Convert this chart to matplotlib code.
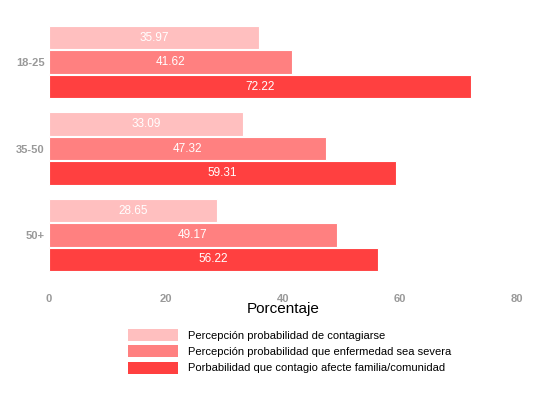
import matplotlib
matplotlib.use("Agg")
import matplotlib.pyplot as plt
import numpy as np
from matplotlib.patches import Patch

plt.rcParams['font.family'] = ['Liberation Sans', 'DejaVu Sans']

categories = ["18-25", "35-50", "50+"]
series_names = ["Percepción probabilidad de contagiarse",
                "Percepción probabilidad que enfermedad sea severa",
                "Porbabilidad que contagio afecte familia/comunidad"]
contagio = [35.97, 33.09, 28.65]
severa = [41.62, 47.32, 49.17]
familia = [72.22, 59.31, 56.22]
colors = ["#FFBFBF", "#FF8080", "#FF4040"]

W, H = 541, 394
fig = plt.figure(figsize=(W/100, H/100), dpi=100)
ax_left, ax_right = 49, 517
ax_top, ax_bot = 20, 288
ax = fig.add_axes([ax_left/W, 1-ax_bot/H, (ax_right-ax_left)/W, (ax_bot-ax_top)/H])

y = np.arange(len(categories))
bh = 0.27
offsets = [-0.283, 0, 0.283]
for vals, off, c in zip([contagio, severa, familia], offsets, colors):
    ax.barh(y + off, vals, height=bh, color=c, edgecolor='white', linewidth=0.8)
    for yi, v in zip(y, vals):
        ax.text(v/2, yi + off, f"{v:.2f}", ha='center', va='center', color='white', fontsize=8.5)

ax.set_xlim(0, 80)
ax.set_ylim(2.613, -0.486)
ax.set_xticks([0, 20, 40, 60, 80])
ax.set_yticks(y)
ax.set_yticklabels(categories)
ax.tick_params(axis='x', length=0, labelsize=8, pad=4)
ax.tick_params(axis='y', length=0, labelsize=8, pad=3)
for lbl in ax.get_xticklabels() + ax.get_yticklabels():
    lbl.set_fontweight('bold')
    lbl.set_color('#999999')
for s in ax.spines.values():
    s.set_visible(False)
ax.set_xlabel("Porcentaje", fontsize=11, color='black', labelpad=-1)

handles = [Patch(facecolor=c, edgecolor='none') for c in colors]
fig.legend(handles, series_names, loc='upper left', bbox_to_anchor=(128/W, 1-329/H),
           frameon=False, fontsize=8, handlelength=4.5, handleheight=1.3,
           labelspacing=0.38, handletextpad=0.9, borderpad=0, borderaxespad=0)

fig.savefig("out.png", dpi=100)
